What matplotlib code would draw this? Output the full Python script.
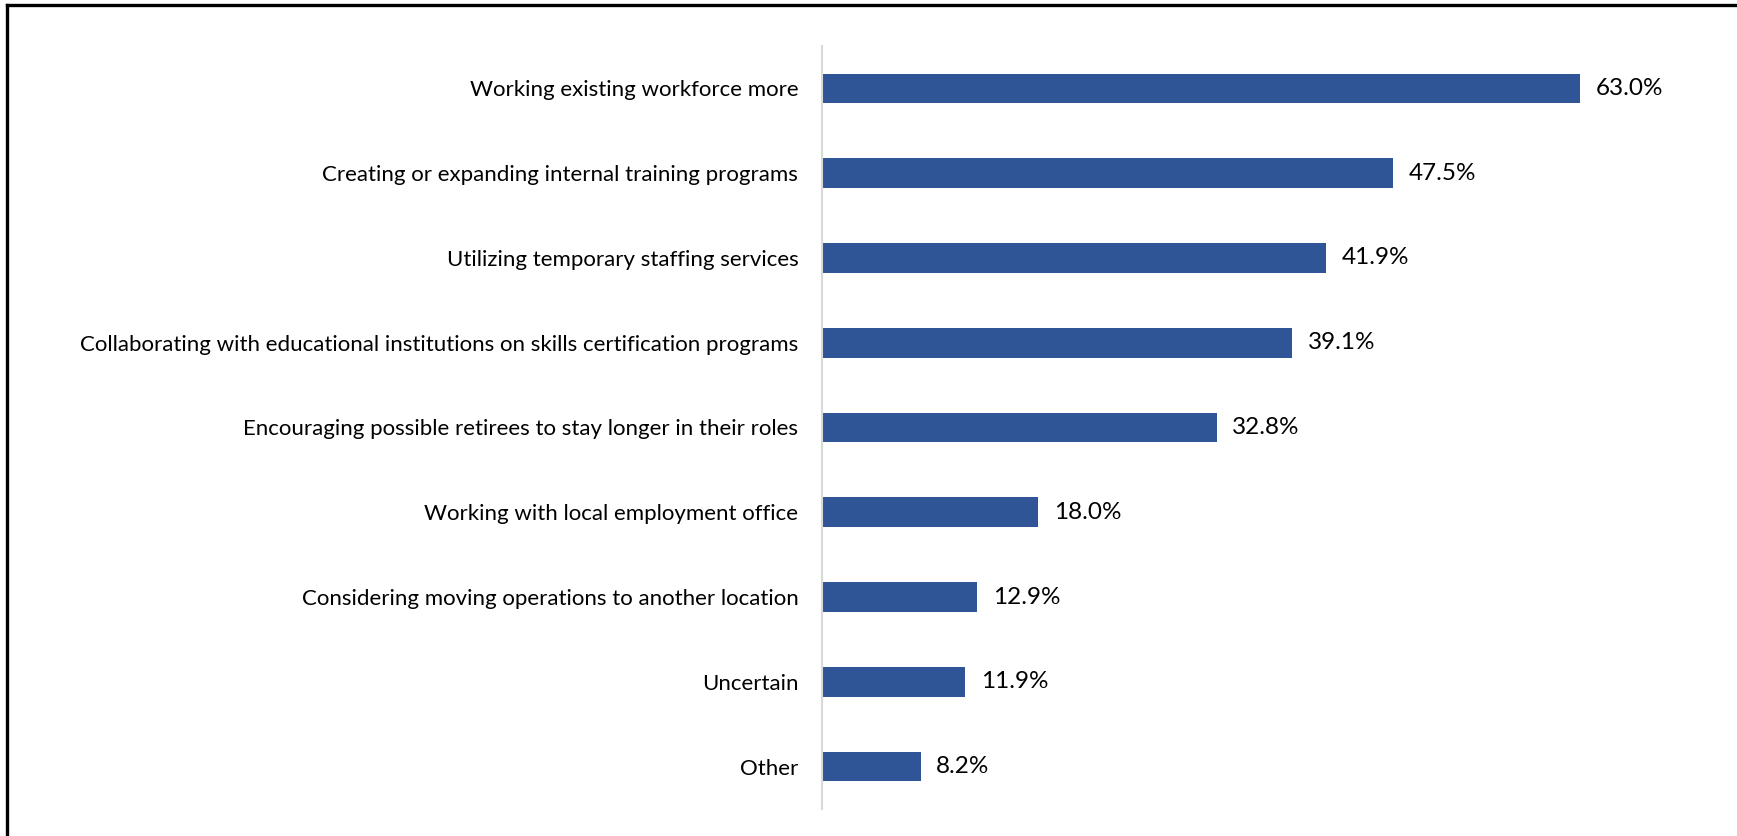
import matplotlib.pyplot as plt
from matplotlib.lines import Line2D

categories = [
    'Working existing workforce more',
    'Creating or expanding internal training programs',
    'Utilizing temporary staffing services',
    'Collaborating with educational institutions on skills certification programs',
    'Encouraging possible retirees to stay longer in their roles',
    'Working with local employment office',
    'Considering moving operations to another location',
    'Uncertain',
    'Other',
]
shares = [63.0, 47.5, 41.9, 39.1, 32.8, 18.0, 12.9, 11.9, 8.2]

bar_color = '#2F5597'
plt.rcParams['font.family'] = ['Lato', 'DejaVu Sans']

fig = plt.figure(figsize=(17.37, 8.36), dpi=100)
ax = fig.add_axes([0.4732, 0.0323, 0.4848, 0.9127])

pos = list(range(len(categories)))
ax.barh(pos, shares, height=0.35, color=bar_color)
ax.set_ylim(len(categories) - 0.5, -0.5)
ax.set_xlim(0, 70)

for y, v in zip(pos, shares):
    ax.text(v + 1.3, y, f'{v:.1f}%', va='center', ha='left', fontsize=17.5, color='#000000')

ax.set_yticks(pos)
ax.set_yticklabels(categories, fontsize=16)
ax.tick_params(axis='y', length=0, pad=17)
ax.set_xticks([])
for side in ['top', 'right', 'bottom']:
    ax.spines[side].set_visible(False)
ax.spines['left'].set_color('#D9D9D9')
ax.spines['left'].set_linewidth(1.5)

# frame lines on top and left edge
fig.add_artist(Line2D([7 / 1737, 1], [1 - 5 / 836, 1 - 5 / 836], color='black', lw=2.4,
                      transform=fig.transFigure))
fig.add_artist(Line2D([7 / 1737, 7 / 1737], [0, 1 - 5 / 836], color='black', lw=2.4,
                      transform=fig.transFigure))

fig.savefig('out.png', dpi=100)
